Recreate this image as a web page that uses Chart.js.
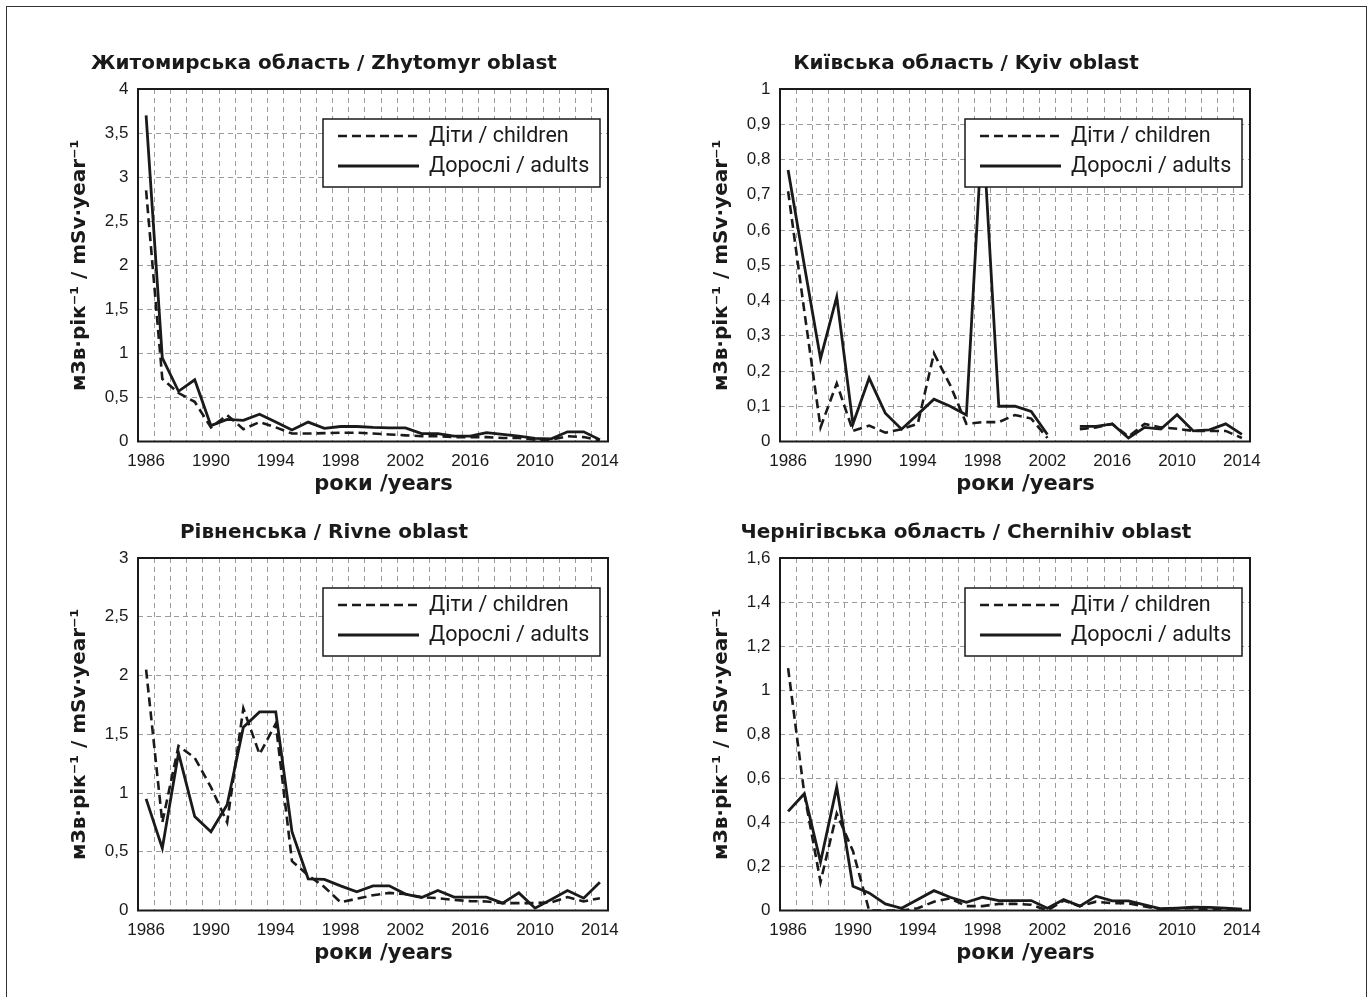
<!DOCTYPE html>
<html>
<head>
<meta charset="utf-8">
<script src="https://cdn.jsdelivr.net/npm/chart.js@4.4.1/dist/chart.umd.min.js"></script>
<style>
  html, body { margin: 0; padding: 0; background: #fff; }
  body { width: 1369px; height: 997px; position: relative; overflow: hidden; }
  #frame { position: absolute; left: 6px; top: 6px; width: 1361px; height: 1010px; border: 1.5px solid #333; box-sizing: border-box; }
  canvas { position: absolute; }
</style>
</head>
<body>
<div id="frame"></div>
<canvas id="zhytomyr" width="600" height="480" style="left:40px;top:30px"></canvas>
<canvas id="kyiv" width="600" height="480" style="left:682px;top:30px"></canvas>
<canvas id="rivne" width="600" height="480" style="left:40px;top:499px"></canvas>
<canvas id="chernihiv" width="600" height="480" style="left:682px;top:499px"></canvas>
<script>
// ── Data ──────────────────────────────────────────────────
const years = ['1986','1987','1988','1989','1990','1991','1992','1993','1994','1995',
               '1996','1997','1998','1999','2000','2001','2002','2003','2004','2005',
               '2006','2007','2008','2009','2010','2011','2012','2013','2014'];
// labels as printed under the axis (every 4th year)
const tickLabels = ['1986','1990','1994','1998','2002','2016','2010','2014'];

const zhytomyrChildren = [2.85, 0.71, 0.55, 0.45, 0.16, 0.30, 0.14, 0.22, 0.16, 0.09,
                          0.09, 0.095, 0.10, 0.10, 0.09, 0.08, 0.07, 0.06, 0.06, 0.05,
                          0.05, 0.05, 0.04, 0.04, 0.02, 0.02, 0.06, 0.05, 0.015];
const zhytomyrAdults   = [3.70, 0.95, 0.57, 0.70, 0.18, 0.25, 0.24, 0.31, 0.22, 0.13,
                          0.22, 0.15, 0.17, 0.17, 0.16, 0.155, 0.155, 0.09, 0.09, 0.06,
                          0.06, 0.10, 0.08, 0.06, 0.035, 0.03, 0.11, 0.11, 0.02];

const kyivChildren = [0.71, 0.37, 0.04, 0.165, 0.03, 0.045, 0.025, 0.035, 0.05, 0.25,
                      0.16, 0.05, 0.055, 0.055, 0.075, 0.065, 0.01, null, 0.035, 0.04,
                      0.05, 0.014, 0.05, 0.04, 0.036, 0.03, 0.03, 0.03, 0.01];
const kyivAdults   = [0.77, 0.50, 0.235, 0.41, 0.05, 0.18, 0.08, 0.035, 0.077, 0.12,
                      0.10, 0.075, 0.90, 0.10, 0.10, 0.085, 0.02, null, 0.043, 0.043,
                      0.05, 0.01, 0.04, 0.035, 0.076, 0.03, 0.033, 0.05, 0.02];

const rivneChildren = [2.05, 0.75, 1.40, 1.30, 1.05, 0.75, 1.72, 1.33, 1.59, 0.42,
                       0.30, 0.20, 0.07, 0.10, 0.13, 0.15, 0.14, 0.114, 0.105, 0.09,
                       0.08, 0.077, 0.063, 0.063, 0.063, 0.07, 0.114, 0.077, 0.105];
const rivneAdults   = [0.95, 0.53, 1.34, 0.80, 0.67, 0.90, 1.56, 1.69, 1.69, 0.67,
                       0.27, 0.265, 0.21, 0.16, 0.21, 0.21, 0.14, 0.11, 0.17, 0.114,
                       0.114, 0.114, 0.063, 0.15, 0.02, 0.094, 0.17, 0.105, 0.24];

const chernihivChildren = [1.10, 0.53, 0.13, 0.44, 0.27, 0, 0, 0, 0.01, 0.04,
                           0.055, 0.02, 0.02, 0.03, 0.03, 0.026, 0, 0.045, 0.02, 0.04,
                           0.033, 0.033, 0.018, 0.006, 0.01, 0.01, 0.003, 0.003, 0.003];
const chernihivAdults   = [0.45, 0.53, 0.22, 0.56, 0.11, 0.08, 0.03, 0.01, 0.05, 0.09,
                           0.06, 0.037, 0.06, 0.045, 0.045, 0.045, 0.01, 0.05, 0.02, 0.065,
                           0.044, 0.044, 0.026, 0.008, 0.011, 0.015, 0.014, 0.011, 0.006];

const seriesNames = ['Діти / children', 'Дорослі / adults'];
const yTitle = 'мЗв·рік⁻¹ / mSv·year⁻¹';
const xTitle = '\u2003роки /years';

// ── Look ──────────────────────────────────────────────────
const INK = '#1a1a1a';
const GRID = '#9b9b9b';
const TICK_FONT = { family: "'Liberation Sans', Arial, sans-serif", size: 17 };
const BOLD_FONT = { family: "'DejaVu Sans', 'Liberation Sans', sans-serif", weight: 'bold' };
const LEGEND_FONT = "21.5px Roboto, 'Noto Sans', sans-serif";

Chart.defaults.font.family = "'Liberation Sans', Arial, sans-serif";
Chart.defaults.color = INK;

const comma = v => String(+Number(v).toFixed(2)).replace('.', ',');

// frame round the plot + boxed legend in the upper right corner
const panelDecor = {
  id: 'panelDecor',
  afterDatasetsDraw(chart) {
    const { ctx, chartArea: a } = chart;
    ctx.save();
    ctx.strokeStyle = INK;
    ctx.lineWidth = 2;
    ctx.setLineDash([]);
    ctx.strokeRect(a.left, a.top, a.right - a.left, a.bottom - a.top);

    const w = 277, h = 68;
    const bx = a.right - 8 - w, by = a.top + 30;
    ctx.fillStyle = '#fff';
    ctx.fillRect(bx, by, w, h);
    ctx.lineWidth = 1.5;
    ctx.strokeRect(bx, by, w, h);

    ctx.font = LEGEND_FONT;
    ctx.textBaseline = 'middle';
    chart.data.datasets.forEach((ds, i) => {
      const y = by + 17 + i * 30;
      ctx.beginPath();
      ctx.setLineDash(ds.borderDash || []);
      ctx.lineWidth = ds.borderWidth;
      ctx.strokeStyle = ds.borderColor;
      ctx.moveTo(bx + 15, y);
      ctx.lineTo(bx + 96, y);
      ctx.stroke();
      ctx.setLineDash([]);
      ctx.fillStyle = INK;
      ctx.fillText(ds.label, bx + 106, y + 1);
    });
    ctx.restore();
  }
};

function makePanel(id, title, yMax, yStep, children, adults) {
  const ctx = document.getElementById(id).getContext('2d');
  return new Chart(ctx, {
    type: 'line',
    data: {
      labels: years,
      datasets: [
        { label: seriesNames[0], data: children, borderColor: INK, borderWidth: 2.6,
          borderDash: [9, 5], pointRadius: 0, tension: 0, fill: false, spanGaps: false },
        { label: seriesNames[1], data: adults, borderColor: INK, borderWidth: 2.8,
          pointRadius: 0, tension: 0, fill: false, spanGaps: false }
      ]
    },
    options: {
      responsive: false,
      animation: false,
      events: [],
      layout: { padding: { left: 0, right: 32, top: 0, bottom: 0 } },
      plugins: {
        legend: { display: false },
        tooltip: { enabled: false },
        title: {
          display: true, text: title, color: INK,
          font: { ...BOLD_FONT, size: 20 },
          padding: { top: 22, bottom: 13 }
        }
      },
      scales: {
        x: {
          offset: true,
          grid: { offset: true, color: GRID, lineWidth: 1, drawTicks: false },
          border: { display: false, dash: [5, 4] },
          ticks: {
            autoSkip: false, maxRotation: 0, padding: 10, font: TICK_FONT, color: INK,
            callback: (v, i) => (i % 4 === 0 ? tickLabels[i / 4] : '')
          },
          title: { display: true, text: xTitle, color: INK, font: { ...BOLD_FONT, size: 21 },
                   padding: { top: 0, bottom: 13 } },
          afterFit: s => { s.height = 68.5; }
        },
        y: {
          min: 0, max: yMax,
          grid: { color: GRID, lineWidth: 1, drawTicks: false },
          border: { display: false, dash: [5, 4] },
          ticks: { stepSize: yStep, padding: 9.5, font: TICK_FONT, color: INK, callback: v => comma(v) },
          title: { display: true, text: yTitle, color: INK, font: { ...BOLD_FONT, size: 20 },
                   padding: { top: 28, bottom: 0 } },
          afterFit: s => { s.width = 98; }
        }
      }
    },
    plugins: [panelDecor]
  });
}

makePanel('zhytomyr',  'Житомирська область / Zhytomyr oblast',   4,   0.5, zhytomyrChildren,  zhytomyrAdults);
makePanel('kyiv',      'Київська область / Kyiv oblast',          1,   0.1, kyivChildren,      kyivAdults);
makePanel('rivne',     'Рівненська / Rivne oblast',               3,   0.5, rivneChildren,     rivneAdults);
makePanel('chernihiv', 'Чернігівська область / Chernihiv oblast', 1.6, 0.2, chernihivChildren, chernihivAdults);
</script>
</body>
</html>
